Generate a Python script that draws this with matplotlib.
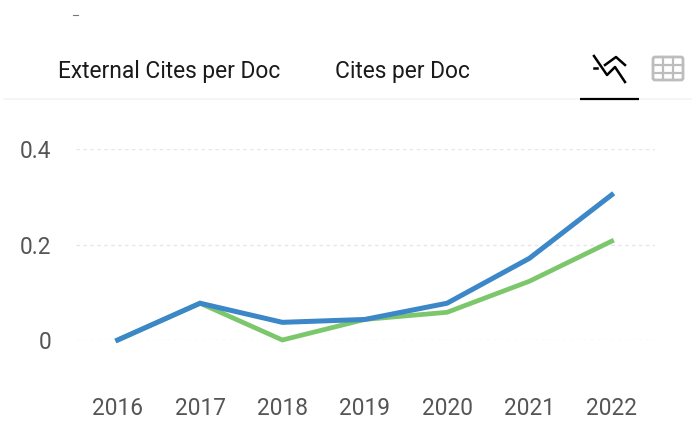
import matplotlib
matplotlib.use("Agg")
import matplotlib.pyplot as plt
from matplotlib.patches import FancyBboxPatch

years = [2016, 2017, 2018, 2019, 2020, 2021, 2022]
external_cites = [0.0, 0.077, 0.0, 0.043, 0.058, 0.123, 0.207]
cites = [0.0, 0.077, 0.037, 0.043, 0.077, 0.171, 0.304]
y_ticks = [0, 0.2, 0.4]
y_tick_labels = ["0", "0.2", "0.4"]
tabs = ["External Cites per Doc", "Cites per Doc"]

W, H = 692, 425
plt.rcParams["font.family"] = ["Roboto", "DejaVu Sans"]
fig = plt.figure(figsize=(W / 100, H / 100), dpi=100, facecolor="white")

# pixel overlay for header chrome
ov = fig.add_axes([0, 0, 1, 1])
ov.set_xlim(0, W)
ov.set_ylim(H, 0)
ov.axis("off")
ov.text(58, 71.5, tabs[0], fontsize=16.4, color="#1a1a1a", va="center", ha="left")
ov.text(335, 71.5, tabs[1], fontsize=16.4, color="#1a1a1a", va="center", ha="left")
ov.plot([4, 692], [99, 99], color="#f4f4f4", lw=1.2)
ov.plot([580, 639], [99, 99], color="black", lw=1.6, solid_capstyle="butt")
ov.plot([73, 78], [15, 15], color="#777777", lw=0.8)

# line-chart icon
ov.plot([594, 607, 615, 625], [56, 75, 67, 82], color="black", lw=1.8)
ov.plot([605, 616, 625], [65, 57, 65], color="black", lw=1.8)
ov.plot([594, 597], [68, 68], color="black", lw=1.8)

# table icon
ov.add_patch(FancyBboxPatch((653, 57), 30, 23, boxstyle="round,pad=0,rounding_size=2",
                            fc="white", ec="#bdbdbd", lw=2))
for xv in (663, 673):
    ov.plot([xv, xv], [57, 80], color="#bdbdbd", lw=1.6)
for yv in (65, 73):
    ov.plot([653, 683], [yv, yv], color="#bdbdbd", lw=1.6)

# chart
left, right, top, bottom = 76, 655, 149, 340
ax = fig.add_axes([left / W, 1 - bottom / H, (right - left) / W, (bottom - top) / H])
ax.patch.set_alpha(0)
step = (611.7 - 117.7) / 6
ax.set_xlim(2016 - (117.7 - left) / step, 2022 + (right - 611.7) / step)
ax.set_ylim(0, 0.4)
for s in ax.spines.values():
    s.set_visible(False)
ax.set_yticks(y_ticks, y_tick_labels)
ax.set_xticks(years, [str(y) for y in years])
ax.tick_params(axis="both", length=0, labelsize=16.3, labelcolor="#555555")
ax.tick_params(axis="y", pad=18)
ax.tick_params(axis="x", pad=41)
ax.grid(axis="y", color="#e6e6e6", lw=1, ls=(0, (2.5, 2.5)))
ax.grid(axis="x", visible=False)
ax.set_axisbelow(True)
ax.plot(years, external_cites, color="#7cc66c", lw=3.4, clip_on=False, solid_joinstyle="miter")
ax.plot(years, cites, color="#3b87c8", lw=3.6, clip_on=False, solid_joinstyle="miter")

fig.savefig("out.png", dpi=100)
